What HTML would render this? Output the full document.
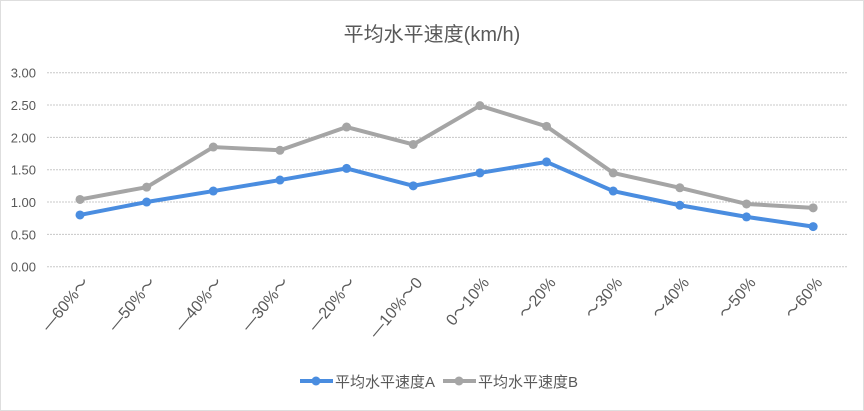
<!DOCTYPE html>
<html><head><meta charset="utf-8"><style>
html,body{margin:0;padding:0;background:#fff}
svg{display:block;font-family:"Liberation Sans","Noto Sans CJK SC",sans-serif}
</style></head><body>
<svg id="chart" width="864" height="411" viewBox="0 0 864 411">
<rect x="0.5" y="0.5" width="863" height="410" fill="#fff" stroke="#bdbdbd" stroke-dasharray="1,1"/>
<text x="432" y="41" text-anchor="middle" font-size="20" fill="#595959">平均水平速度(km/h)</text>
<g id="grid"></g><g id="yt"></g><g id="xt"></g><g id="series"></g>
<g>
<g><line x1="300" y1="381" x2="333" y2="381" stroke="#4a8de0" stroke-width="4"/><circle cx="316" cy="381" r="4.5" fill="#4a8de0"/><text x="335" y="387" font-size="15" fill="#595959">平均水平速度A</text></g>
<g><line x1="443" y1="381" x2="476" y2="381" stroke="#a5a5a5" stroke-width="4"/><circle cx="459" cy="381" r="4.5" fill="#a5a5a5"/><text x="478" y="387" font-size="15" fill="#595959">平均水平速度B</text></g>
</g>
</svg>
<script>
const categories=["—60%～","—50%～","—40%～","—30%～","—20%～","—10%～0","0～10%","～20%","～30%","～40%","～50%","～60%"];
const seriesA=[0.80,1.00,1.17,1.34,1.52,1.25,1.45,1.62,1.17,0.95,0.77,0.62];
const seriesB=[1.04,1.23,1.85,1.80,2.16,1.89,2.49,2.17,1.45,1.22,0.97,0.91];
const yTicks=[0,0.5,1,1.5,2,2.5,3];
const yTickLabels=["0.00","0.50","1.00","1.50","2.00","2.50","3.00"];
const NS="http://www.w3.org/2000/svg";
const y=v=>266.7-v*64.67;
const x=i=>80+i*66.65;
function mk(t,a,p){const e=document.createElementNS(NS,t);for(const k in a)e.setAttribute(k,a[k]);p.appendChild(e);return e;}
const grid=document.getElementById('grid'),yt=document.getElementById('yt'),xt=document.getElementById('xt'),ser=document.getElementById('series');
yTicks.forEach((v,i)=>{
 const l=mk('line',{x1:47,x2:848,y1:y(v),y2:y(v),stroke:'#c8c8c8','stroke-dasharray':'2,1'},grid);
 
 
 const t=mk('text',{x:36,y:y(v)+5,'text-anchor':'end','font-size':'13',fill:'#595959'},yt);
 
 
 t.textContent=yTickLabels[i];
});
categories.forEach((c,i)=>{
 const t=mk('text',{x:x(i)+10,y:283,'text-anchor':'end','font-size':'16',fill:'#595959',transform:`rotate(-50 ${x(i)+10} 283)`},xt);
 
 
 t.textContent=c;
});
[[seriesB,'#a5a5a5','series-b'],[seriesA,'#4a8de0','series-a']].forEach(([d,col,n])=>{
 const g=mk('g',{},ser);
 
 
 const p=mk('polyline',{points:d.map((v,i)=>x(i)+','+y(v)).join(' '),fill:'none',stroke:col,'stroke-width':4,'stroke-linejoin':'round'},g);
 
 
 d.forEach((v,i)=>{
  const c=mk('circle',{cx:x(i),cy:y(v),r:4.5,fill:col},g);
  
  
 });
});
</script>
</body></html>
